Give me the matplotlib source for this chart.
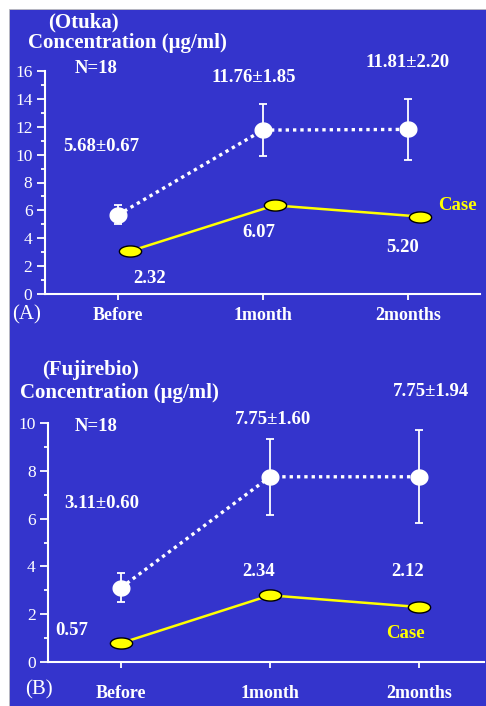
import numpy as np
import matplotlib
matplotlib.use("Agg")
import matplotlib.pyplot as plt
from matplotlib.path import Path
from matplotlib.patches import Rectangle
from matplotlib.ticker import MultipleLocator

plt.rcParams["font.family"] = ["Liberation Serif", "DejaVu Serif"]

# categories
periods = ["Before", "1month", "2months"]

# panel A (Otuka)
ctrl_a = [5.68, 11.76, 11.81]
sd_a = [0.67, 1.85, 2.20]
case_a = [3.06, 6.36, 5.56]          # positions as drawn
case_a_lab = ["2.32", "6.07", "5.20"]  # values as printed

# panel B (Fujirebio)
ctrl_b = [3.11, 7.75, 7.75]
sd_b = [0.60, 1.60, 1.94]
case_b = [0.79, 2.79, 2.30]
case_b_lab = ["0.57", "2.34", "2.12"]

BLUE = "#3434CC"
YEL = "#FFFF00"
W = "white"

# ellipse marker for the case points
th = np.linspace(0, 2 * np.pi, 60)
ell = Path(np.column_stack([np.cos(th), 0.5 * np.sin(th)]), closed=True)
circ = Path(np.column_stack([np.cos(th), 0.9 * np.sin(th)]), closed=True)

fig = plt.figure(figsize=(4.86, 7.06), dpi=100)
fig.patches.append(Rectangle((9 / 486, 0), 1 - 9 / 486, 697 / 706,
                             transform=fig.transFigure, facecolor=BLUE,
                             edgecolor="#BBBBBB", lw=0.6, zorder=-5))


def make_axes(rect, ymax, xlim, xpad):
    ax = fig.add_axes(rect)
    ax.set_facecolor("none")
    for s in ["top", "right"]:
        ax.spines[s].set_visible(False)
    for s in ["left", "bottom"]:
        ax.spines[s].set_color(W)
        ax.spines[s].set_linewidth(1.5)
    ax.set_xlim(*xlim)
    ax.set_ylim(0, ymax)
    ax.yaxis.set_major_locator(MultipleLocator(2))
    ax.yaxis.set_minor_locator(MultipleLocator(1))
    ax.tick_params(axis="y", which="major", colors=W, length=6, width=1.3,
                   labelsize=12.5, pad=3)
    ax.tick_params(axis="y", which="minor", colors=W, length=3, width=1.3)
    ax.set_xticks(range(len(periods)))
    ax.set_xticklabels(periods, fontsize=13, fontweight="bold")
    ax.tick_params(axis="x", colors=W, length=4, width=1.3, pad=xpad)
    return ax


def draw(ax, ctrl, sd, case, dx):
    x = np.arange(len(periods))
    ax.errorbar(x, ctrl, yerr=sd, fmt="none", ecolor=W, elinewidth=1.3,
                capsize=3, capthick=1.3, zorder=3)
    ax.plot(x, ctrl, color=W, lw=2.4, ls=(0, (1, 1.2)), zorder=2)
    ax.plot(x, ctrl, ls="none", marker=circ, ms=12, mfc=W, mec=W, zorder=4)
    ax.plot(x + dx, case, color=YEL, lw=1.8, zorder=3,
            marker=ell, ms=16, mfc=YEL, mec="black", mew=1.0)


tk = dict(color=W, fontweight="bold", ha="center", va="center", clip_on=False)

# ---- panel A ----
axa = make_axes([45 / 486, 1 - 294 / 706, 435 / 486, 223 / 706], 16,
                (-0.503, 2.497), 5.5)
draw(axa, ctrl_a, sd_a, case_a, 0.08)
axa.text(-0.241, 19.5, "(Otuka)", fontsize=15, **tk)
axa.text(0.066, 18.0, "Concentration (\u03bcg/ml)", fontsize=15, **tk)
axa.text(-0.152, 16.2, "N=18", fontsize=13.5, **tk)
axa.text(0.938, 15.5, f"{ctrl_a[1]:.2f}\u00b1{sd_a[1]:.2f}", fontsize=13.5, **tk)
axa.text(2.0, 16.64, f"{ctrl_a[2]:.2f}\u00b1{sd_a[2]:.2f}", fontsize=13.5, **tk)
axa.text(-0.117, 10.55, f"{ctrl_a[0]:.2f}\u00b1{sd_a[0]:.2f}", fontsize=13.5, **tk)
for xi, yi, s in zip([0.221, 0.972, 1.966], [1.08, 4.38, 3.37], case_a_lab):
    axa.text(xi, yi, s, fontsize=13.5, **tk)
axa.text(2.338, 6.38, "Case", fontsize=13.5, **{**tk, "color": YEL})
axa.text(-0.628, -1.5, "(A)", fontsize=15, color=W, ha="center", va="center",
         clip_on=False)

# ---- panel B ----
axb = make_axes([48 / 486, 1 - 662 / 706, 436 / 486, 239 / 706], 10,
                (-0.49, 2.436), 12.5)
draw(axb, ctrl_b, sd_b, case_b, 0.0)
axb.text(-0.208, 12.22, "(Fujirebio)", fontsize=15, **tk)
axb.text(-0.01, 11.26, "Concentration (\u03bcg/ml)", fontsize=15, **tk)
axb.text(-0.168, 9.87, "N=18", fontsize=13.5, **tk)
axb.text(1.02, 10.13, f"{ctrl_b[1]:.2f}\u00b1{sd_b[1]:.2f}", fontsize=13.5, **tk)
axb.text(2.08, 11.30, f"{ctrl_b[2]:.2f}\u00b1{sd_b[2]:.2f}", fontsize=13.5, **tk)
axb.text(-0.128, 6.65, f"{ctrl_b[0]:.2f}\u00b1{sd_b[0]:.2f}", fontsize=13.5, **tk)
for xi, yi, s in zip([-0.329, 0.926, 1.926], [1.30, 3.77, 3.77], case_b_lab):
    axb.text(xi, yi, s, fontsize=13.5, **tk)
axb.text(1.906, 1.21, "Case", fontsize=13.5, **{**tk, "color": YEL})
axb.text(-0.55, -1.17, "(B)", fontsize=15, color=W, ha="center", va="center",
         clip_on=False)

fig.savefig("out.png", dpi=100, facecolor="white")
